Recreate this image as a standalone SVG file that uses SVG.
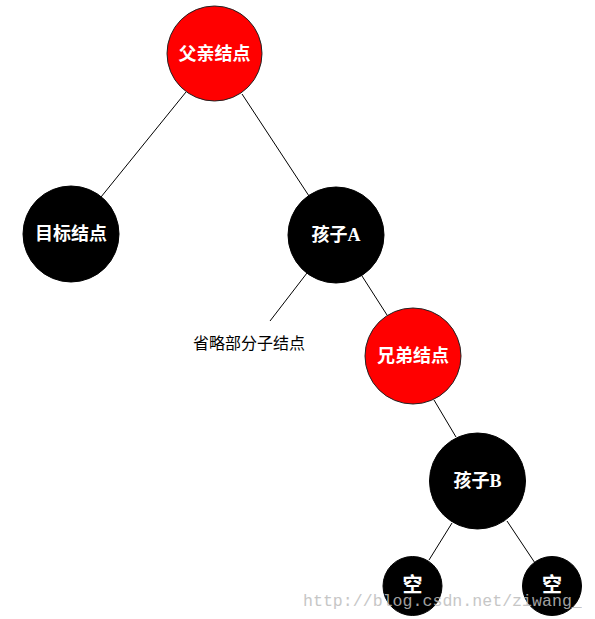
<svg xmlns="http://www.w3.org/2000/svg" width="595" height="619" viewBox="0 0 595 619">
<style>
.red{fill:#ff0000;stroke:#222;stroke-width:1}
.blk{fill:#000;stroke:#000;stroke-width:1}
.lbl{fill:#fff;font-family:"Liberation Serif","Noto Sans CJK SC",serif;font-weight:bold;font-size:18px;text-anchor:middle;dominant-baseline:central}
.big{font-size:20px}
.edge{stroke:#000;stroke-width:1;fill:none}
.note{fill:#000;font-family:"Noto Sans CJK SC",sans-serif;font-size:16px}
.wm{fill:#bdbdbd;font-family:"Liberation Mono",monospace;font-size:16.6px;opacity:0.85}
</style>
<rect width="595" height="619" fill="#fff"/>
<g id="connectors">
<line class="edge" x1="186" y1="92" x2="101" y2="197"/>
<line class="edge" x1="242" y1="94" x2="309" y2="196"/>
<line class="edge" x1="307" y1="273" x2="270" y2="321"/>
<line class="edge" x1="362" y1="276" x2="387" y2="315"/>
<line class="edge" x1="434" y1="400" x2="456" y2="437"/>
<line class="edge" x1="452" y1="523" x2="429" y2="560"/>
<line class="edge" x1="507" y1="521" x2="535" y2="563"/>
</g>
<g id="n-father"><circle class="red" cx="214.5" cy="53.5" r="47.5"/><text class="lbl" x="214.5" y="53.5">父亲结点</text></g>
<g id="n-target"><circle class="blk" cx="71" cy="234" r="48"/><text class="lbl" x="71" y="234">目标结点</text></g>
<g id="n-childA"><circle class="blk" cx="336" cy="235" r="48"/><text class="lbl" x="336" y="235">孩子A</text></g>
<g id="n-note"><text class="note" x="193" y="349">省略部分子结点</text></g>
<g id="n-sibling"><circle class="red" cx="413" cy="356" r="48"/><text class="lbl" x="413" y="356">兄弟结点</text></g>
<g id="n-childB"><circle class="blk" cx="477.5" cy="481" r="48"/><text class="lbl" x="477.5" y="481">孩子B</text></g>
<g id="n-nil1"><circle class="blk" cx="412.5" cy="586" r="29.5"/><text class="lbl big" x="412.5" y="585">空</text></g>
<g id="n-nil2"><circle class="blk" cx="552" cy="586" r="29.5"/><text class="lbl big" x="552" y="585">空</text></g>
<text class="wm" x="303" y="606">http://blog.csdn.net/ziwang_</text>
</svg>
